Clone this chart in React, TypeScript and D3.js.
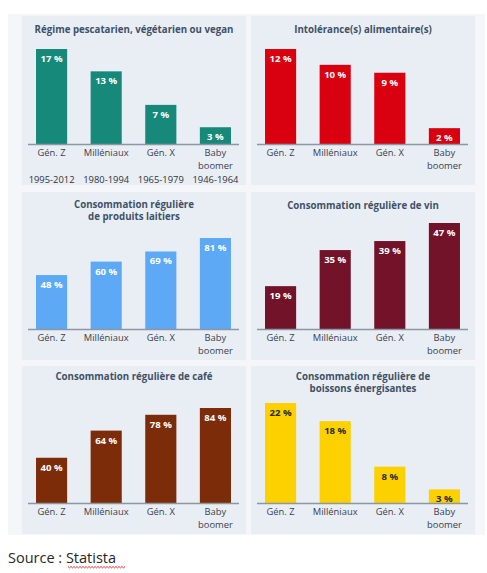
import React from "react";
import * as d3 from "d3";

const categories = ["Gén. Z", "Milléniaux", "Gén. X", "Baby boomer"];
const birthYears = ["1995-2012", "1980-1994", "1965-1979", "1946-1964"];

const vegValues = [17, 13, 7, 3];
const intoleranceValues = [12, 10, 9, 2];
const dairyValues = [48, 60, 69, 81];
const wineValues = [19, 35, 39, 47];
const coffeeValues = [40, 64, 78, 84];
const energyValues = [22, 18, 8, 3];

const panelTitles = [
  ["Régime pescatarien, végétarien ou vegan"],
  ["Intolérance(s) alimentaire(s)"],
  ["Consommation régulière", "de produits laitiers"],
  ["Consommation régulière de vin"],
  ["Consommation régulière de café"],
  ["Consommation régulière de", "boissons énergisantes"],
];
const panelValues = [vegValues, intoleranceValues, dairyValues, wineValues, coffeeValues, energyValues];
const panelColors = ["#17897a", "#d9000f", "#5ea9f6", "#72132a", "#7c2c09", "#fdd000"];
const labelColors = ["#ffffff", "#ffffff", "#ffffff", "#ffffff", "#ffffff", "#2b2b2b"];

// layout
const W = 487;
const H = 573;
const colX = [22, 251];
const rowY = [16, 192, 366];
const rowH = [169, 168, 168];
const panelW = 224;
const baselines = [144, 144, 329, 329, 503, 503];
const maxTops = [49, 49, 238, 223, 408, 403];
const titleY = [33, 33, 208, 209, 380, 380];

const FONT = "'Open Sans', 'Noto Sans', sans-serif";

function Panel({ i }: { i: number }) {
  const col = i % 2;
  const row = Math.floor(i / 2);
  const px = colX[col];
  const py = rowY[row];
  const values = panelValues[i];
  const x = d3
    .scaleBand<string>()
    .domain(categories)
    .range([px + 2, px + 221])
    .paddingInner(0.43)
    .paddingOuter(0.22);
  const y = d3
    .scaleLinear()
    .domain([0, d3.max(values) as number])
    .range([baselines[i], maxTops[i]]);
  const base = baselines[i];
  const tx = px + panelW / 2;
  return (
    <g>
      <rect x={px} y={py} width={panelW} height={rowH[row]} fill="#e9eef4" />
      <text
        y={titleY[i]}
        textAnchor="middle"
        fontFamily={FONT}
        fontWeight={700}
        fontSize={9.7}
        fill="#3f5167"
      >
        {panelTitles[i].map((t, k) => (
          <tspan key={k} x={tx} dy={k === 0 ? 0 : 11.5}>
            {t}
          </tspan>
        ))}
      </text>
      {values.map((v, k) => {
        const c = categories[k];
        const bx = x(c) as number;
        const bw = x.bandwidth();
        return (
          <g key={c}>
            <rect x={bx} y={y(v)} width={bw} height={base - y(v)} fill={panelColors[i]} />
            <text
              x={bx + bw / 2}
              y={y(v) + 13}
              textAnchor="middle"
              fontFamily={FONT}
              fontWeight={700}
              fontSize={9.6}
              fill={labelColors[i]}
            >
              {v} %
            </text>
          </g>
        );
      })}
      <line x1={px + 6} x2={px + 217} y1={base + 0.5} y2={base + 0.5} stroke="#8c97a4" strokeWidth={1.3} />
      {categories.map((c, k) => {
        const cx = (x(c) as number) + x.bandwidth() / 2;
        const lines = c === "Baby boomer" ? ["Baby", "boomer"] : [c];
        return (
          <text
            key={c}
            y={base + 12}
            textAnchor="middle"
            fontFamily={FONT}
            fontSize={9.4}
            fill="#3a4150"
          >
            {lines.map((l, j) => (
              <tspan key={j} x={cx} dy={j === 0 ? 0 : 12.9}>
                {l}
              </tspan>
            ))}
          </text>
        );
      })}
      {i === 0 &&
        birthYears.map((yr, k) => (
          <text
            key={yr}
            x={(x(categories[k]) as number) + x.bandwidth() / 2}
            y={base + 38.5}
            textAnchor="middle"
            fontFamily={FONT}
            fontSize={9.4}
            fill="#2f3440"
          >
            {yr}
          </text>
        ))}
    </g>
  );
}

export default function App() {
  // wavy underline path under "Statista"
  const wave: [number, number][] = [];
  for (let k = 0; k <= 38; k++) wave.push([68 + k * 1.5, 566.5 + (k % 2 === 0 ? 0 : 1.4)]);
  const wavePath = d3.line()(wave) as string;
  return (
    <svg
      width={W}
      height={H}
      style={{ position: "absolute", left: 0, top: 0, background: "#ffffff" }}
    >
      <rect x={8} y={14} width={477} height={521} fill="#f4f6f9" />
      {panelValues.map((_, i) => (
        <Panel key={i} i={i} />
      ))}
      <text x={8} y={563} fontFamily={FONT} fontSize={14.5} fill="#262626">
        Source : Statista
      </text>
      <path d={wavePath} fill="none" stroke="#e02020" strokeWidth={0.9} />
    </svg>
  );
}
